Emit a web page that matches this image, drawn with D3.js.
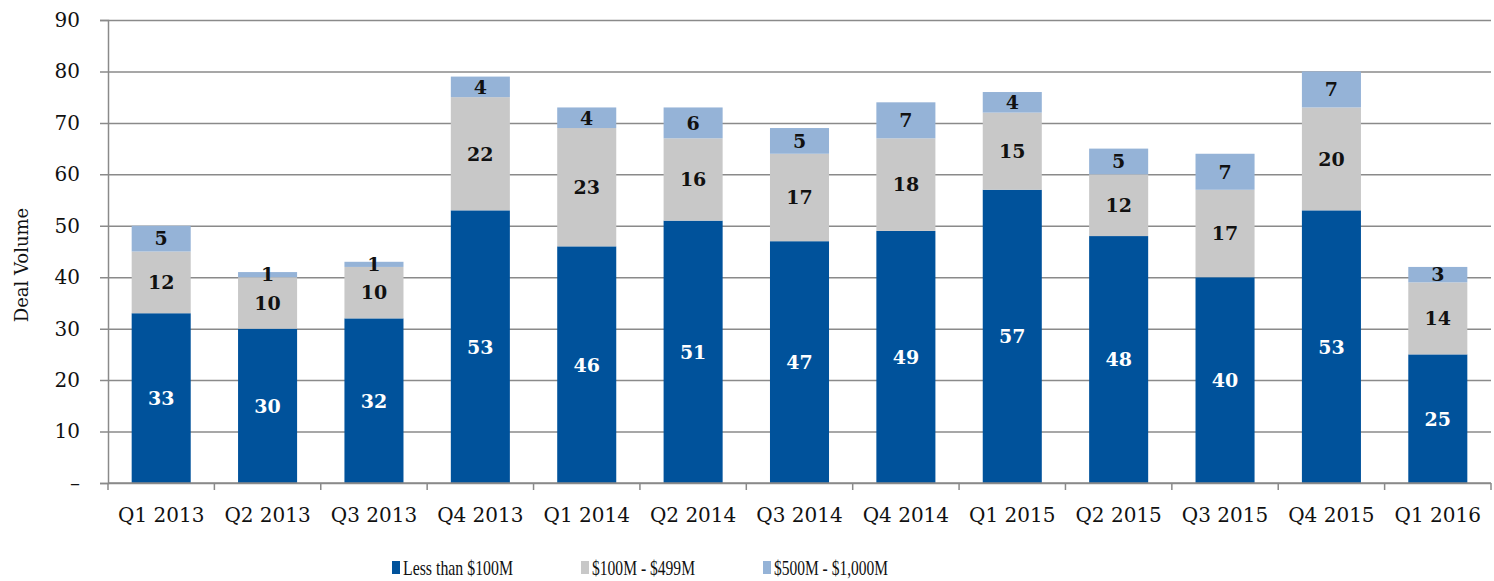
<!DOCTYPE html>
<html>
<head>
<meta charset="utf-8">
<script src="https://cdn.jsdelivr.net/npm/d3@7"></script>
<style>
  html, body { margin: 0; padding: 0; background: #fff; }
  svg { display: block; }
</style>
</head>
<body>
<svg id="chart" width="1494" height="581"></svg>
<script>
const categories = ["Q1 2013","Q2 2013","Q3 2013","Q4 2013","Q1 2014","Q2 2014","Q3 2014","Q4 2014","Q1 2015","Q2 2015","Q3 2015","Q4 2015","Q1 2016"];
const seriesNames = ["Less than $100M", "$100M - $499M", "$500M - $1,000M"];
const lessThan100M = [33,30,32,53,46,51,47,49,57,48,40,53,25];
const from100To499M = [12,10,10,22,23,16,17,18,15,12,17,20,14];
const from500To1000M = [5,1,1,4,4,6,5,7,4,5,7,7,3];
const yTicks = [0,10,20,30,40,50,60,70,80,90];

const colors = ["#00529B", "#C8C8C8", "#95B3D7"];
const labelColors = ["#ffffff", "#111111", "#111111"];

const svg = d3.select("#chart");
const margin = {left: 108, right: 3, top: 20, bottom: 98};
const W = 1494, H = 581;

const x = d3.scaleBand().domain(categories).range([margin.left, W - margin.right]).paddingInner(0.445).paddingOuter(0.2225);
const xEdges = d3.scaleBand().domain(categories).range([margin.left, W - margin.right]).padding(0);
const y = d3.scaleLinear().domain([0, 90]).range([H - margin.bottom, margin.top]);

const serif = "'DejaVu Serif', serif";

// gridlines + y axis
const yAxis = d3.axisLeft(y).tickValues(yTicks).tickSize(8).tickPadding(20)
  .tickFormat(d => d === 0 ? "–" : d);
const gy = svg.append("g").attr("transform", `translate(${margin.left},0)`).call(yAxis);
gy.select(".domain").attr("stroke", "#8a8a8a").attr("stroke-width", 1.5);
gy.selectAll(".tick line").attr("stroke", "#8a8a8a").attr("stroke-width", 1.5)
  .attr("x2", W - margin.right - margin.left).attr("x1", -8);
gy.selectAll(".tick text").attr("font-family", serif).attr("font-size", 20).attr("fill", "#111");

// data rows
const rows = categories.map((c, i) => ({cat: c, s0: lessThan100M[i], s1: from100To499M[i], s2: from500To1000M[i]}));
const stack = d3.stack().keys(["s0","s1","s2"]);
const stacked = stack(rows);

const layers = svg.append("g").selectAll("g").data(stacked).join("g")
  .attr("fill", (d, i) => colors[i]);
layers.selectAll("rect").data(d => d).join("rect")
  .attr("x", d => x(d.data.cat))
  .attr("width", x.bandwidth())
  .attr("y", d => y(d[1]))
  .attr("height", d => y(d[0]) - y(d[1]));

// x axis
const gx = svg.append("g").attr("transform", `translate(0,${y(0)})`);
gx.append("line").attr("x1", margin.left).attr("x2", W - margin.right)
  .attr("stroke", "#8a8a8a").attr("stroke-width", 1.5);
const edges = categories.map(c => xEdges(c)).concat([W - margin.right]);
gx.selectAll("line.tk").data(edges).join("line").attr("class", "tk")
  .attr("x1", d => d).attr("x2", d => d).attr("y1", 0).attr("y2", 7)
  .attr("stroke", "#8a8a8a").attr("stroke-width", 1.5);
gx.selectAll("text").data(categories).join("text")
  .attr("x", d => x(d) + x.bandwidth() / 2)
  .attr("y", 39)
  .attr("text-anchor", "middle")
  .attr("font-family", serif).attr("font-size", 20).attr("fill", "#111")
  .text(d => d);

// value labels
const labG = svg.append("g");
stacked.forEach((layer, li) => {
  labG.selectAll(null).data(layer).join("text")
    .attr("x", d => x(d.data.cat) + x.bandwidth() / 2)
    .attr("y", d => y((d[0] + d[1]) / 2))
    .attr("dy", "0.36em")
    .attr("text-anchor", "middle")
    .attr("font-family", serif).attr("font-weight", "bold").attr("font-size", 19)
    .attr("fill", labelColors[li])
    .text(d => d[1] - d[0]);
});

// y axis title
svg.append("text")
  .attr("transform", `translate(28,265) rotate(-90)`)
  .attr("text-anchor", "middle")
  .attr("font-family", serif).attr("font-size", 18).attr("fill", "#111")
  .text("Deal Volume");

// legend
const legendX = [392, 581, 763];
const legendW = [110, 103, 114];
const lg = svg.append("g");
seriesNames.forEach((name, i) => {
  lg.append("rect").attr("x", legendX[i]).attr("y", 561).attr("width", 8).attr("height", 13).attr("fill", colors[i]);
  lg.append("text").attr("x", legendX[i] + 11).attr("y", 575)
    .attr("font-family", "'Liberation Serif', serif").attr("font-size", 22).attr("fill", "#111")
    .attr("textLength", legendW[i]).attr("lengthAdjust", "spacingAndGlyphs")
    .text(name);
});
</script>
</body>
</html>
